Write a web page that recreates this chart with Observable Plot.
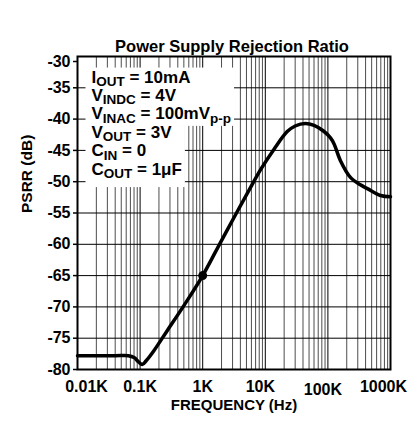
<!DOCTYPE html>
<html><head><meta charset="utf-8">
<script src="https://cdn.jsdelivr.net/npm/d3@7"></script>
<script src="https://cdn.jsdelivr.net/npm/@observablehq/plot@0.6"></script>
<style>
body{margin:0;background:#fff;}
#wrap{position:relative;width:420px;height:434px;overflow:hidden;}
#topline{position:absolute;left:0;top:7px;width:420px;height:3px;background:#000;}
#wrap svg{position:absolute;left:0;top:0;}
</style></head><body><div id="wrap"><div id="topline"></div></div>
<script>
// ---- data ----
const freqHz = [10, 40, 65, 80, 95, 108, 125, 166, 271, 500, 1000, 1900, 3550, 5760, 8500, 13800, 22400, 30000, 43600, 60000, 85000, 110000, 126000, 158000, 229000, 330000, 427000, 692000, 1000000];
const psrrDb = [-77.8, -77.8, -77.8, -78.1, -78.8, -79.2, -78.6, -77.0, -73.8, -69.8, -65.0, -59.8, -54.8, -51.0, -48.0, -44.8, -42.0, -41.1, -40.7, -41.0, -41.9, -43.0, -44.0, -46.6, -49.3, -50.5, -51.1, -52.2, -52.4];
const markerFreq = [1000];
const markerDb = [-65];
const xTickValues = [10, 100, 1000, 10000, 100000, 1000000];
const xTickLabels = ["0.01K", "0.1K", "1K", "10K", "100K", "1000K"];
const yTickValues = [-30, -35, -40, -45, -50, -55, -60, -65, -70, -75, -80];
const titleText = "Power Supply Rejection Ratio";
const xLabel = "FREQUENCY (Hz)";
const yLabel = "PSRR (dB)";
const annotationLines = [
  [["I", ""], ["OUT", "sub"], [" = 10mA", ""]],
  [["V", ""], ["INDC", "sub"], [" = 4V", ""]],
  [["V", ""], ["INAC", "sub"], [" = 100mV", ""], ["p-p", "sub"]],
  [["V", ""], ["OUT", "sub"], [" = 3V", ""]],
  [["C", ""], ["IN", "sub"], [" = 0", ""]],
  [["C", ""], ["OUT", "sub"], [" = 1\u03bcF", ""]]
];

// ---- layout ----
const W = 420, H = 434, mL = 77, mR = 30, mT = 56, mB = 65;
const font = "'Liberation Sans', Arial, Helvetica, sans-serif";
const curve = freqHz.map((f, i) => ({f, v: psrrDb[i]}));
const marker = markerFreq.map((f, i) => ({f, v: markerDb[i]}));
const minorTicks = [];
for (const d of xTickValues.slice(0, -1)) for (const k of d3.range(2, 10)) minorTicks.push(d * k);
const labelOf = d => xTickLabels[xTickValues.indexOf(d)];
const plain = segs => segs.map(s => s[0]).join("");

const axisXOpts = {tickSize: 0, tickPadding: 11, fontSize: 16, fontWeight: "bold", label: null, tickFormat: labelOf};
const annoMarks = annotationLines.map((segs, i) =>
  Plot.text([plain(segs)], {text: d => d, frameAnchor: "top-left", textAnchor: "start", lineAnchor: "top",
    dx: 14, dy: 14 + i * 18.4, fontSize: 17, fontWeight: "bold", fill: "black"}));

const chart = Plot.plot({
  width: W, height: H, marginLeft: mL, marginRight: mR, marginTop: mT, marginBottom: mB,
  style: {fontFamily: font, color: "black", background: "white", overflow: "visible"},
  x: {type: "log", domain: [10, 1000000]},
  y: {domain: [-80, -30]},
  marks: [
    Plot.ruleX(minorTicks, {stroke: "#4d4d4d", strokeWidth: 1}),
    Plot.ruleX(xTickValues, {stroke: "black", strokeWidth: 1}),
    Plot.ruleY(yTickValues.filter(v => v > -80 && v < -30), {stroke: "black", strokeWidth: 1}),
    ...annoMarks,
    Plot.line(curve, {x: "f", y: "v", curve: "catmull-rom", stroke: "black", strokeWidth: 3.5}),
    Plot.dot(marker, {x: "f", y: "v", r: 4.5, fill: "black"}),
    Plot.frame({stroke: "black", strokeWidth: 2}),
    Plot.axisY(yTickValues.filter(v => v !== -30), {tickSize: 4, tickPadding: 3, fontSize: 16, fontWeight: "bold", label: null, tickFormat: d => String(d), strokeWidth: 1.5}),
    Plot.axisY([-30], {tickSize: 4, tickPadding: 3, fontSize: 16, fontWeight: "bold", label: null, tickFormat: d => String(d), dy: 5, strokeWidth: 1.5}),
    Plot.axisX([10], {...axisXOpts, dx: 9}),
    Plot.axisX([100, 1000], axisXOpts),
    Plot.axisX([10000], {...axisXOpts, dx: -5}),
    Plot.axisX([100000], {...axisXOpts, dx: -5, dy: 3}),
    Plot.axisX([1000000], {...axisXOpts, dx: -7}),
    Plot.text([titleText], {text: d => d, frameAnchor: "top", dx: -2, dy: -16, fontSize: 16.5, fontWeight: "bold", fill: "black"}),
    Plot.text([xLabel], {text: d => d, frameAnchor: "bottom", dy: 40, fontSize: 15, fontWeight: "bold", fill: "black"}),
    Plot.text([yLabel], {text: d => d, frameAnchor: "left", dx: -50, rotate: -90, fontSize: 15.5, fontWeight: "bold", fill: "black"})
  ]
});
document.getElementById("wrap").appendChild(chart);

// ---- subscripts and white annotation box ----
const ns = "http://www.w3.org/2000/svg";
const texts = Array.from(chart.querySelectorAll("text"));
const annoEls = annotationLines.map(segs => texts.find(t => t.textContent === plain(segs)));
annoEls.forEach((el, i) => {
  if (!el) return;
  el.textContent = "";
  let inSub = false;
  for (const [str, kind] of annotationLines[i]) {
    const ts = document.createElementNS(ns, "tspan");
    if (kind === "sub") { ts.setAttribute("font-size", "13.5"); if (!inSub) ts.setAttribute("dy", "3.5"); inSub = true; }
    else { if (inSub) ts.setAttribute("dy", "-3.5"); inSub = false; }
    ts.textContent = str;
    el.appendChild(ts);
  }
});
const sr = chart.getBoundingClientRect();
const boxes = annoEls.filter(Boolean).map(el => el.getBoundingClientRect());
const firstG = annoEls[0] && annoEls[0].closest("g");
function addBox(bs, top, bottom) {
  const right = Math.max(...bs.map(b => b.right)) - sr.left + 3;
  const left = Math.min(...bs.map(b => b.left)) - sr.left - 6;
  const r = document.createElementNS(ns, "rect");
  r.setAttribute("x", left); r.setAttribute("y", top);
  r.setAttribute("width", right - left); r.setAttribute("height", bottom - top);
  r.setAttribute("fill", "white");
  firstG.parentNode.insertBefore(r, firstG);
}
if (boxes.length === 6 && firstG) {
  const top1 = Math.min(...boxes.slice(0, 3).map(b => b.top)) - sr.top;
  const mid = Math.max(...boxes.slice(0, 3).map(b => b.bottom)) - sr.top;
  const bot = Math.max(...boxes.slice(3).map(b => b.bottom)) - sr.top + 6;
  addBox(boxes.slice(0, 3), top1, mid);
  addBox(boxes.slice(3), mid - 0.5, bot);
}
</script></body></html>
